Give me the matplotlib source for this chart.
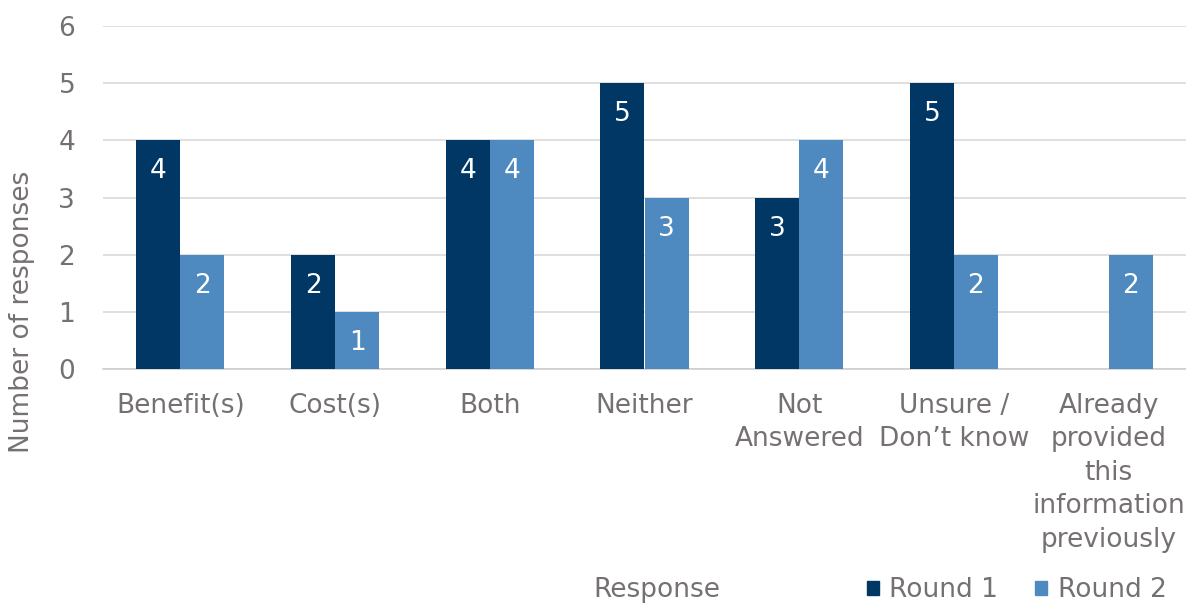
import numpy as np
import matplotlib.pyplot as plt
from matplotlib.patches import Patch

categories = ['Benefit(s)', 'Cost(s)', 'Both', 'Neither', 'Not\nAnswered',
              'Unsure /\nDon\u2019t know',
              'Already\nprovided\nthis\ninformation\npreviously']
round1 = [4, 2, 4, 5, 3, 5, 0]
round2 = [2, 1, 4, 3, 4, 2, 2]

dark = '#003764'
light = '#4E8AC0'
grey = '#767171'

plt.rcParams['font.family'] = ['DejaVu Sans']

fig = plt.figure(figsize=(11.86, 6.03), dpi=100)
ax = fig.add_axes([103 / 1186, 1 - 369 / 603, 1 - 103 / 1186, (369 - 26) / 603])

x = np.arange(len(categories))
w = 0.285
b1 = ax.bar(x - w / 2, round1, w, color=dark, zorder=3)
b2 = ax.bar(x + w / 2, round2, w, color=light, zorder=3)

# white value labels inside the top of each bar
for bars, vals in ((b1, round1), (b2, round2)):
    for r, v in zip(bars, vals):
        if v == 0:
            continue
        ax.annotate(str(v), (r.get_x() + r.get_width() / 2, v), xytext=(0, -31),
                    textcoords='offset pixels', ha='center', va='center',
                    color='white', fontsize=19, zorder=4)

ax.set_xlim(-0.5, len(categories) - 0.5)
ax.set_ylim(0, 6)
ax.set_yticks(range(7))
ax.set_xticks(x)
ax.set_xticklabels(categories, linespacing=1.38)
ax.tick_params(axis='both', length=0, labelsize=19, labelcolor=grey)
ax.tick_params(axis='x', pad=17)
ax.tick_params(axis='y', pad=20)
ax.yaxis.grid(True, color='#d9d9d9', linewidth=1.2, zorder=0)
for s in ['top', 'right', 'left']:
    ax.spines[s].set_visible(False)
ax.spines['bottom'].set_color('#d0cece')
ax.spines['bottom'].set_linewidth(1.2)

fig.text(22 / 1186, (1 - 312 / 603), 'Number of responses', rotation=90,
         ha='center', va='center', fontsize=19, color=grey)
fig.text(657 / 1186, 1 - 590 / 603, 'Response', ha='center', va='center',
         fontsize=19, color=grey)

handles = [Patch(color=dark, label='Round 1'), Patch(color=light, label='Round 2')]
leg = fig.legend(handles=handles, loc='center left', bbox_to_anchor=(867 / 1186, 1 - 590 / 603),
                 ncol=2, frameon=False, fontsize=19, handlelength=0.45, handleheight=0.45,
                 handletextpad=0.4, columnspacing=1.4, borderpad=0, borderaxespad=0)
for t in leg.get_texts():
    t.set_color(grey)

fig.savefig('out.png', dpi=100)
